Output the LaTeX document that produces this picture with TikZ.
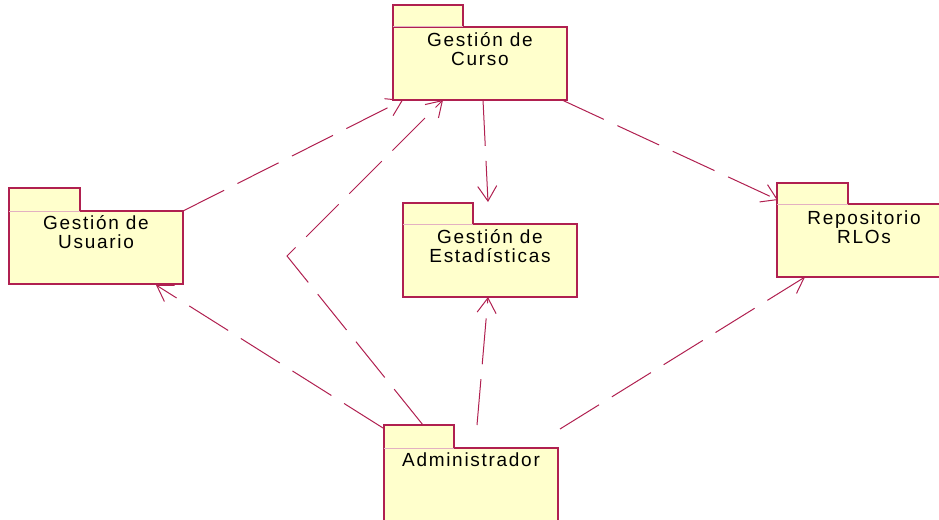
\documentclass[tikz,border=0pt]{standalone}
\usepackage{fontspec}
\newfontfamily\pkgfont{Liberation Sans}[LetterSpace=9]
\usetikzlibrary{calc,positioning,arrows.meta}
\definecolor{pkgred}{RGB}{176,32,80}
\definecolor{pkgfill}{RGB}{255,255,204}
\tikzset{
	pkgbody/.style={draw=pkgred,fill=pkgfill,line width=1.3pt,minimum width=174pt,minimum height=73pt,inner sep=0pt,outer sep=0pt},
	pkgtab/.style={draw=pkgred,fill=pkgfill,line width=1.3pt},
	tabedge/.style={draw=pkgred!35,line width=1pt},
	pkgtext/.style={font=\pkgfont\fontsize{19}{19}\selectfont,align=center,inner sep=0pt},
	dep/.style={->,>={Straight Barb[length=15pt,width=19pt]},draw=pkgred,line width=1pt,dash pattern=on 46pt off 15pt}
}

\begin{document}
\begin{tikzpicture}[x=1pt,y=-1pt]
	\useasboundingbox (0,0) rectangle (939,519);
	
	\node[pkgbody] (curso) at (480,63.5) {};
	\node[pkgbody] (usuario) at (96,247.5) {};
	\node[pkgbody] (estad) at (490,260.5) {};
	\node[pkgbody] (repo) at (864,240.5) {};
	\node[pkgbody] (admin) at (471,484.5) {};
	
	% tabs of the packages
	\filldraw[pkgtab] (curso.north west) -- ++(0,-22) -- ++(70,0) -- ++(0,22);
	\filldraw[pkgtab] (usuario.north west) -- ++(0,-23) -- ++(71,0) -- ++(0,23);
	\filldraw[pkgtab] (estad.north west) -- ++(0,-21) -- ++(70,0) -- ++(0,21);
	\filldraw[pkgtab] (repo.north west) -- ++(0,-21) -- ++(71,0) -- ++(0,21);
	\filldraw[pkgtab] (admin.north west) -- ++(0,-23) -- ++(70,0) -- ++(0,23);
	\path[tabedge] (curso.north west) -- ++(70,0);
	\path[tabedge] (usuario.north west) -- ++(71,0);
	\path[tabedge] (estad.north west) -- ++(70,0);
	\path[tabedge] (repo.north west) -- ++(71,0);
	\path[tabedge] (admin.north west) -- ++(70,0);
	
	\node[pkgtext,below=5pt of curso.north] (curso-t) {Gestión de\\Curso};
	\node[pkgtext,below=4.5pt of usuario.north] (usuario-t) {Gestión de\\Usuario};
	\node[pkgtext,below=5pt of estad.north] (estad-t) {Gestión de\\Estadísticas};
	\node[pkgtext,below=7pt of repo.north] (repo-t) {Repositorio\\RLOs};
	\node[pkgtext,below=5pt of admin.north] (admin-t) {Administrador};
	
	\coordinate (bend) at (287,256);
	
	\draw[dep] (usuario.north east) -- ($(curso.south west)+(10,0)$);
	\draw[dep] ($(admin.north west)+(39,-23)$) -- (bend) -- ($(curso.south west)+(50,0)$);
	\draw[dep] ($(curso.south west)+(90,0)$) -- ($(estad.north west)+(85,-22)$);
	\draw[dep] ($(curso.south east)+(-5,0)$) -- ($(repo.north west)+(1,-4)$);
	\draw[dep] ($(admin.north west)+(-1,-20)$) -- ($(usuario.south east)+(-27,1)$);
	\draw[dep] ($(admin.north west)+(93,-23)$) -- ($(estad.south west)+(85,0)$);
	\draw[dep] ($(admin.north east)+(2,-19)$) -- ($(repo.south west)+(28,0)$);

\end{tikzpicture}
\end{document}
